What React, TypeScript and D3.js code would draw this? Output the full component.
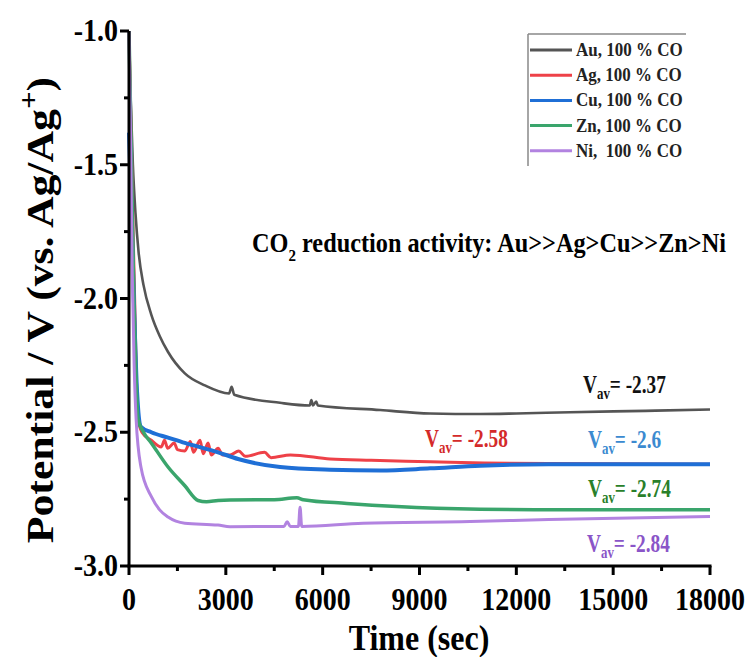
import React from "react";
import * as d3 from "d3";

type Pt = [number, number];

// chronopotentiometry traces, [time (s), potential (V vs Ag/Ag+)]
const auData: Pt[] = [
  [0, -1.0], [50, -1.25], [120, -1.5], [200, -1.68], [300, -1.83], [450, -1.95], [690, -2.06],
  [950, -2.14], [1210, -2.2], [1730, -2.28], [2350, -2.325], [3100, -2.355],
  [3180, -2.33], [3260, -2.36], [4680, -2.39], [5600, -2.4], [5650, -2.38], [5700, -2.4],
  [5800, -2.385], [5850, -2.4], [7780, -2.417], [9330, -2.43], [10880, -2.432], [12000, -2.43],
  [13670, -2.425], [16000, -2.42], [18000, -2.415],
];
const agData: Pt[] = [
  [0, -1.0], [60, -1.35], [120, -1.71], [175, -2.0], [230, -2.3], [280, -2.45], [400, -2.5],
  [690, -2.53], [1000, -2.555], [1100, -2.53], [1200, -2.56], [1400, -2.54], [1500, -2.565],
  [1730, -2.57], [1900, -2.535], [2000, -2.575], [2200, -2.53], [2300, -2.58], [2450, -2.54],
  [2550, -2.585], [2760, -2.56], [2900, -2.585], [3130, -2.585], [3400, -2.57], [3600, -2.59],
  [4200, -2.575], [4400, -2.595], [5000, -2.585], [6230, -2.6], [7500, -2.605], [9330, -2.61],
  [11000, -2.615], [13000, -2.617], [18000, -2.62],
];
const cuData: Pt[] = [
  [0, -1.38], [60, -1.6], [150, -2.0], [250, -2.35], [370, -2.48], [690, -2.5], [1210, -2.52],
  [1730, -2.54], [2760, -2.575], [3380, -2.6], [4680, -2.63], [6230, -2.64], [7780, -2.643],
  [9330, -2.635], [10880, -2.625], [13000, -2.62], [18000, -2.62],
];
const znData: Pt[] = [
  [0, -1.0], [80, -1.5], [150, -2.0], [220, -2.3], [280, -2.45], [450, -2.5], [690, -2.54],
  [1210, -2.63], [1730, -2.7], [2140, -2.755], [2400, -2.76], [2760, -2.755], [3130, -2.753],
  [4500, -2.752], [5200, -2.745], [5400, -2.752], [6750, -2.766], [8300, -2.778],
  [10880, -2.788], [13000, -2.79], [18000, -2.79],
];
const niData: Pt[] = [
  [0, -1.0], [50, -1.4], [100, -1.9], [160, -2.25], [220, -2.45], [370, -2.63], [690, -2.74],
  [950, -2.79], [1210, -2.817], [1730, -2.84], [2760, -2.847], [3130, -2.853], [4800, -2.852],
  [4900, -2.835], [5000, -2.852], [5250, -2.852], [5300, -2.78], [5350, -2.852], [7250, -2.84],
  [10570, -2.834], [13000, -2.826], [18000, -2.815],
];

const seriesNames = ["Au, 100 % CO", "Ag, 100 % CO", "Cu, 100 % CO", "Zn, 100 % CO", "Ni,  100 % CO"];
const seriesColors = ["#555555", "#ee4148", "#1f6fd6", "#3aa56c", "#b283e0"];
const seriesWidths = [2.6, 3, 4, 3.5, 3];
const seriesData = [auData, agData, cuData, znData, niData];

const avgValues = ["-2.37", "-2.58", "-2.6", "-2.74", "-2.84"];
const avgColors = ["#111111", "#d42a2a", "#3b8ad0", "#2a7f2a", "#8a55c8"];
const avgPos: Pt[] = [[583, 393], [425, 447], [588, 448], [588, 497], [587, 552]];

const xTicks = [0, 3000, 6000, 9000, 12000, 15000, 18000];
const yTicks = [-1.0, -1.5, -2.0, -2.5, -3.0];

const FONT = "'Liberation Serif', 'Times New Roman', serif";
const SY = 1.15; // picture is stretched vertically

const App = () => {
  const x = d3.scaleLinear().domain([0, 18000]).range([129, 710]);
  const y = d3.scaleLinear().domain([-3, -1]).range([566, 31]);
  const line = d3
    .line<Pt>()
    .x((d) => x(d[0]))
    .y((d) => y(d[1]))
    .curve(d3.curveMonotoneX);

  const xMinor = d3.range(1500, 18000, 3000);
  const yMinor = [-1.25, -1.75, -2.25, -2.75];

  return (
    <svg
      width={747}
      height={657}
      style={{ position: "absolute", left: 0, top: 0, background: "#fff" }}
      fontFamily={FONT}
      fontWeight="bold"
    >
      {seriesData.map((d, i) => (
        <path
          key={i}
          d={line(d) || ""}
          fill="none"
          stroke={seriesColors[i]}
          strokeWidth={seriesWidths[i]}
          strokeLinejoin="round"
        />
      ))}

      {/* axes */}
      <line x1={x(0)} x2={x(0)} y1={y(-1)} y2={y(-3)} stroke="#000" strokeWidth={3} />
      <line x1={x(0) - 1.5} x2={x(18000) + 1.5} y1={y(-3)} y2={y(-3)} stroke="#000" strokeWidth={3} />
      {yTicks.map((t) => (
        <g key={t}>
          <line x1={x(0) - 9} x2={x(0)} y1={y(t)} y2={y(t)} stroke="#000" strokeWidth={3} />
          <text transform={`translate(118,${y(t) + 10}) scale(1,${SY})`} textAnchor="end" fontSize={28}>
            {t.toFixed(1)}
          </text>
        </g>
      ))}
      {yMinor.map((t) => (
        <line key={t} x1={x(0) - 5} x2={x(0)} y1={y(t)} y2={y(t)} stroke="#000" strokeWidth={3} />
      ))}
      {xTicks.map((t) => (
        <g key={t}>
          <line x1={x(t)} x2={x(t)} y1={y(-3)} y2={y(-3) + 9} stroke="#000" strokeWidth={3} />
          <text transform={`translate(${x(t)},610) scale(1,${SY})`} textAnchor="middle" fontSize={28}>
            {t}
          </text>
        </g>
      ))}
      {xMinor.map((t) => (
        <line key={t} x1={x(t)} x2={x(t)} y1={y(-3)} y2={y(-3) + 5} stroke="#000" strokeWidth={3} />
      ))}

      {/* axis titles */}
      <text transform={`translate(419,650) scale(1,${SY})`} textAnchor="middle" fontSize={32}>
        Time (sec)
      </text>
      <text transform={`translate(53,310) rotate(-90) scale(${SY},1)`} textAnchor="middle" fontSize={38}>
        Potential / V (vs. Ag/Ag
        <tspan dy={-15} fontSize={27}>+</tspan>
        <tspan dy={15}>)</tspan>
      </text>

      {/* annotation */}
      <text transform={`translate(252,252) scale(1,${SY})`} fontSize={24.3}>
        CO<tspan dy={8} fontSize={15}>2</tspan>
        <tspan dy={-8}> reduction activity: Au&gt;&gt;Ag&gt;Cu&gt;&gt;Zn&gt;Ni</tspan>
      </text>

      {avgValues.map((v, i) => (
        <text
          key={v}
          transform={`translate(${avgPos[i][0]},${avgPos[i][1]}) scale(0.92,${SY})`}
          fontSize={21}
          fill={avgColors[i]}
        >
          V<tspan dy={5} fontSize={14}>av</tspan>
          <tspan dy={-5}>= {v}</tspan>
        </text>
      ))}

      {/* legend */}
      <line x1={528} x2={686} y1={34} y2={34} stroke="#888" strokeWidth={1.5} />
      <line x1={528} x2={528} y1={34} y2={166} stroke="#888" strokeWidth={1.5} />
      {seriesNames.map((n, i) => {
        const ly = 50 + i * 25.2;
        return (
          <g key={n}>
            <line x1={530} x2={572} y1={ly} y2={ly} stroke={seriesColors[i]} strokeWidth={3} />
            <text transform={`translate(576,${ly + 6}) scale(1,${SY})`} fontSize={17} fill="#222" xmlSpace="preserve">
              {n}
            </text>
          </g>
        );
      })}
    </svg>
  );
};

export default App;
